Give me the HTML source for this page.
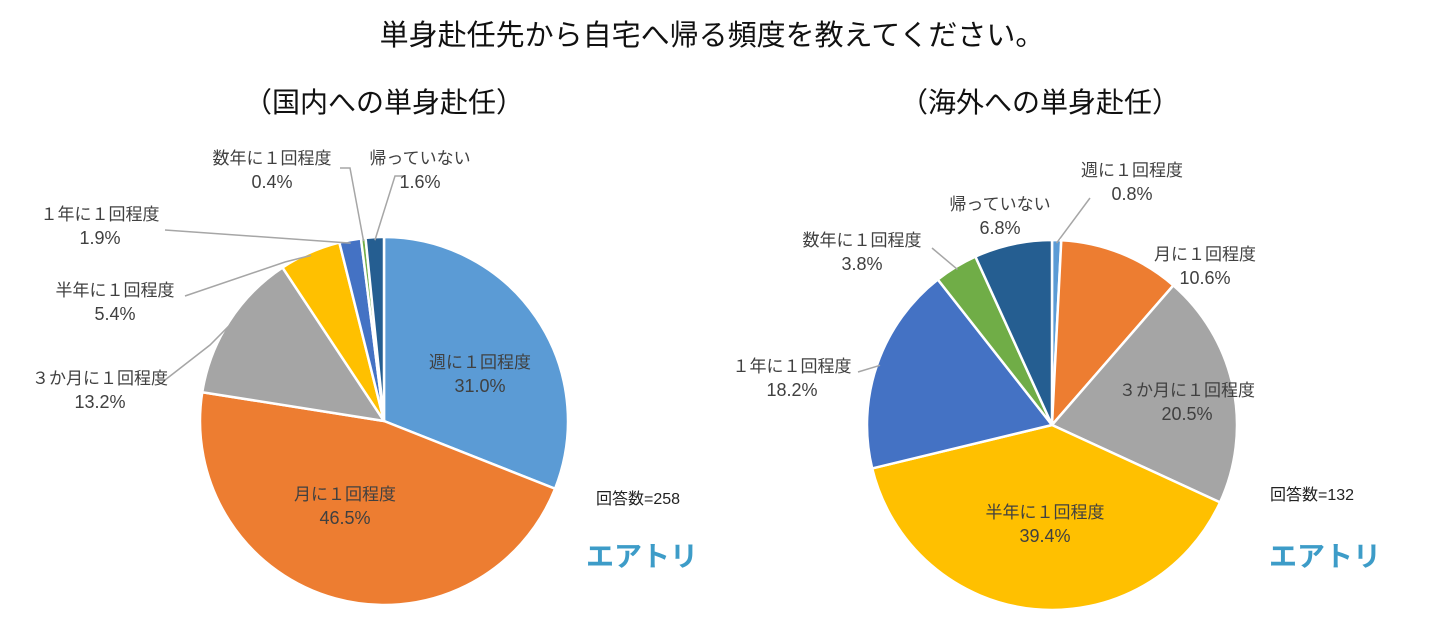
<!DOCTYPE html>
<html><head><meta charset="utf-8">
<style>
body{margin:0;background:#fff;width:1454px;height:627px;overflow:hidden;font-family:"Liberation Sans","Noto Sans CJK JP",sans-serif;}
svg text{font-family:"Liberation Sans","Noto Sans CJK JP",sans-serif;}
</style></head><body>
<svg id="c" width="1454" height="627">
<text x="712" y="45" font-size="29" text-anchor="middle" fill="#111">単身赴任先から自宅へ帰る頻度を教えてください。</text>
<text x="384" y="112" font-size="28" text-anchor="middle" fill="#111">（国内への単身赴任）</text>
<text x="1040" y="112" font-size="28" text-anchor="middle" fill="#111">（海外への単身赴任）</text>
<text x="596" y="504" font-size="16" fill="#222">回答数=258</text>
<text x="1270" y="500" font-size="16" fill="#222">回答数=132</text>
<text x="586" y="566" font-size="28" font-weight="bold" fill="#3d9cc8">エアトリ</text>
<text x="1269" y="566" font-size="28" font-weight="bold" fill="#3d9cc8">エアトリ</text>
</svg>
<script>
const leftCategories=["週に１回程度","月に１回程度","３か月に１回程度","半年に１回程度","１年に１回程度","数年に１回程度","帰っていない"];
const leftValues=[31.0,46.5,13.2,5.4,1.9,0.4,1.6];
const rightCategories=["週に１回程度","月に１回程度","３か月に１回程度","半年に１回程度","１年に１回程度","数年に１回程度","帰っていない"];
const rightValues=[0.8,10.6,20.5,39.4,18.2,3.8,6.8];
const colors=["#5B9BD5","#ED7D31","#A5A5A5","#FFC000","#4472C4","#70AD47","#255E91"];
const svg=document.getElementById('c');
const NS='http://www.w3.org/2000/svg';
function mk(tag,attrs){const e=document.createElementNS(NS,tag);for(const k in attrs)e.setAttribute(k,attrs[k]);svg.appendChild(e);return e;}
// [hasLine, labelX, labelY, lineStartX, lineStartY, elbowX, elbowY]
const leftLayout=[[0,480,368],[0,345,500],[1,100,384,165,380,210,345],[1,115,296,185,296,285,262],[1,100,220,165,230,null,null],[1,272,164,340,168,350,168],[1,420,164,405,176,395,176]];
const rightLayout=[[1,1132,176,1090,198,null,null],[0,1205,260],[0,1187,396],[0,1045,518],[1,792,372,858,372,null,null],[1,862,246,932,248,null,null],[0,1000,210]];
function pie(cx,cy,r,cats,vals,layout,prefix){
  const tot=vals.reduce((a,b)=>a+b,0);let a=-Math.PI/2;
  vals.forEach((v,i)=>{
    const s=a,e=a+v/tot*2*Math.PI;a=e;
    const large=(e-s)>Math.PI?1:0;
    const p=mk('path',{d:`M${cx},${cy} L${cx+r*Math.cos(s)},${cy+r*Math.sin(s)} A${r},${r} 0 ${large} 1 ${cx+r*Math.cos(e)},${cy+r*Math.sin(e)} Z`,fill:colors[i],stroke:'#fff','stroke-width':2.5});
    
    
    const L=layout[i],m=(s+e)/2;
    if(L[0]){
      let pts=`${L[3]},${L[4]} `;
      if(L[5]!=null)pts+=`${L[5]},${L[6]} `;
      pts+=`${cx+(r-3)*Math.cos(m)},${cy+(r-3)*Math.sin(m)}`;
      const ln=mk('polyline',{points:pts,fill:'none',stroke:'#a6a6a6','stroke-width':1.5});
      
      
    }
    const t1=mk('text',{x:L[1],y:L[2],'font-size':17,'text-anchor':'middle',fill:'#404040'});t1.textContent=cats[i];
    
    
    const t2=mk('text',{x:L[1],y:L[2]+24,'font-size':18,'text-anchor':'middle',fill:'#404040'});t2.textContent=v.toFixed(1)+'%';
    
    
  });
}
pie(384,421,184,leftCategories,leftValues,leftLayout,'left');
pie(1052,425,185,rightCategories,rightValues,rightLayout,'right');
</script>
</body></html>
